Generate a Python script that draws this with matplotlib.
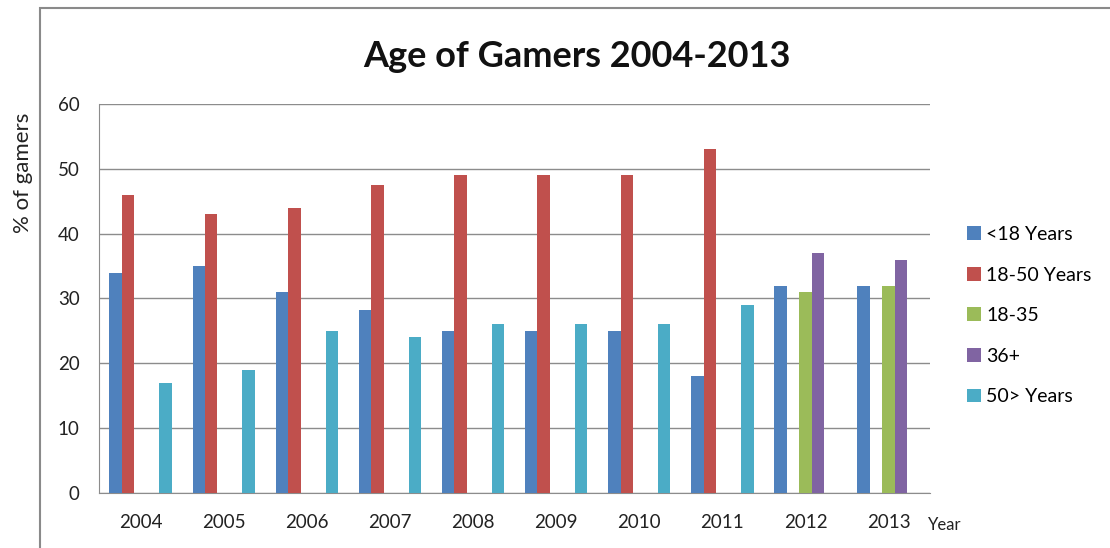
import numpy as np
import matplotlib.pyplot as plt
from matplotlib.patches import Rectangle

plt.rcParams['font.family'] = ['Lato', 'DejaVu Sans']

# Data
years = ['2004', '2005', '2006', '2007', '2008', '2009', '2010', '2011', '2012', '2013']
under18 = [34, 35, 31, 28.2, 25, 25, 25, 18, 32, 32]
age18_50 = [46, 43, 44, 47.5, 49, 49, 49, 53, None, None]
age18_35 = [None, None, None, None, None, None, None, None, 31, 32]
age36plus = [None, None, None, None, None, None, None, None, 37, 36]
over50 = [17, 19, 25, 24, 26, 26, 26, 29, None, None]

series = [
    ('<18 Years', under18, '#4F81BD'),
    ('18-50 Years', age18_50, '#C0504D'),
    ('18-35', age18_35, '#9BBB59'),
    ('36+', age36plus, '#8064A2'),
    ('50> Years', over50, '#4BACC6'),
]

fig = plt.figure(figsize=(11.1, 5.48), dpi=100)
ax = fig.add_axes([0.0892, 0.1004, 0.7488, 0.7098])

x = np.arange(len(years))
w = 0.15
for i, (name, vals, col) in enumerate(series):
    v = np.array([np.nan if a is None else a for a in vals], dtype=float)
    ax.bar(x + (i - 2) * w, v, width=w, color=col, label=name, zorder=3)

ax.set_xlim(-0.5, len(years) - 0.5)
ax.set_ylim(0, 60)
ax.set_yticks(range(0, 61, 10))
ax.set_xticks(x)
ax.set_xticklabels(years)
ax.tick_params(axis='x', length=0, pad=15, labelsize=13.5, colors='#222222')
ax.tick_params(axis='y', length=0, pad=14, labelsize=13.5, colors='#222222')
ax.grid(axis='y', color='#8c8c8c', linewidth=1, zorder=0)
for s in ['top', 'right']:
    ax.spines[s].set_visible(False)
ax.spines['left'].set_color('#8c8c8c')
ax.spines['bottom'].set_color('#8c8c8c')

fig.text(0.52, 0.878, 'Age of Gamers 2004-2013', ha='center', va='baseline',
         fontsize=26, fontweight='bold', color='#111111')
fig.text(0.021, 0.685, '% of gamers', rotation=90, ha='center', va='center',
         fontsize=16, color='#222222')
fig.text(0.851, 0.042, 'Year', ha='center', va='center', fontsize=12, color='#222222')

leg = ax.legend(loc='upper left', bbox_to_anchor=(1.0445, 0.686), frameon=False,
                fontsize=14, handlelength=0.72, handleheight=0.72, handletextpad=0.25,
                labelspacing=1.21, borderaxespad=0, borderpad=0)

fig.patches.append(Rectangle((40 / 1110, -0.1), 1.2, 1 - 8 / 548 + 0.1,
                             transform=fig.transFigure, fill=False,
                             edgecolor='#8a8a8a', linewidth=1.5))

fig.savefig('out.png', dpi=100, facecolor='white')
